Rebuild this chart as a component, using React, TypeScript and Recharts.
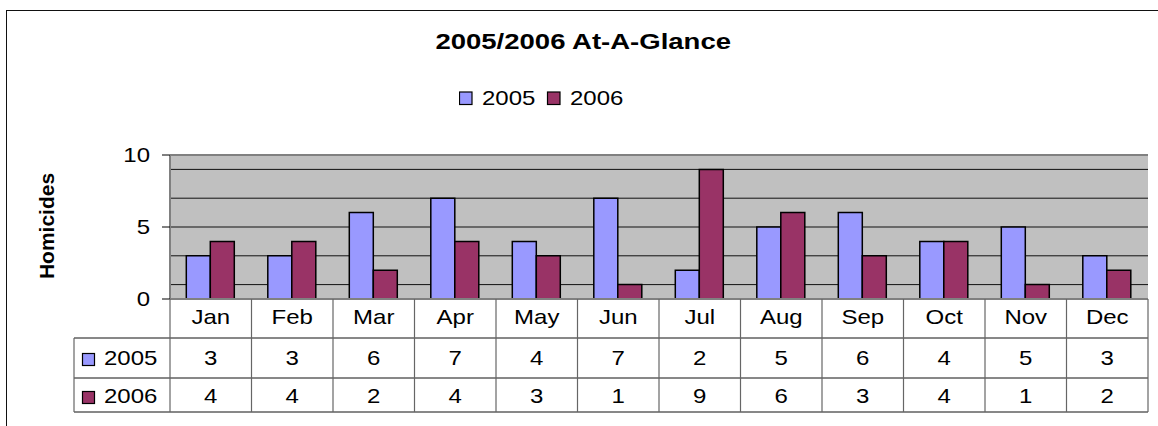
import React from "react"
import { BarChart, Bar, XAxis, YAxis, CartesianGrid, Legend, ReferenceLine } from "recharts"

const months = ["Jan", "Feb", "Mar", "Apr", "May", "Jun", "Jul", "Aug", "Sep", "Oct", "Nov", "Dec"]
const homicides2005 = [3, 3, 6, 7, 4, 7, 2, 5, 6, 4, 5, 3]
const homicides2006 = [4, 4, 2, 4, 3, 1, 9, 6, 3, 4, 1, 2]
const seriesNames = ["2005", "2006"]
const yTicks = [0, 5, 10]
const gridValues = [1, 2, 3, 4, 5, 6, 7, 8, 9]

const COLOR_2005 = "#9999FF"
const COLOR_2006 = "#993366"
const FONT = "'Liberation Sans', Arial, sans-serif"
const STRETCH = 1.2 // the original chart text is a bit wide

const data = months.map((m, i) => ({ month: m, y2005: homicides2005[i], y2006: homicides2006[i] }))
const rows = [
  { name: seriesNames[0], color: COLOR_2005, values: homicides2005 },
  { name: seriesNames[1], color: COLOR_2006, values: homicides2006 },
]

function WideText({ x, y, anchor = "start", size = 20, bold = false, children }: any) {
  return (
    <text transform={`translate(${x},${y}) scale(${STRETCH},1)`} textAnchor={anchor}
      fontFamily={FONT} fontSize={size} fontWeight={bold ? "bold" : "normal"} fill="#000">
      {children}
    </text>
  )
}

// data table under the plot, drawn cell by cell from the category axis ticks
function TableTick(props: any) {
  const { x, y, payload } = props
  const i = payload.index ?? props.index ?? 0
  const half = payload.offset || 40.75
  const left = x - half
  const headerLeft = left - 96
  const plotRight = left + months.length * half * 2
  const lineY = [39, 79, 113]
  const rowText = [66, 104]
  return (
    <g>
      {i === 0 && (
        <g>
          {lineY.map((dy) => (
            <line key={dy} x1={headerLeft} x2={plotRight} y1={y + dy} y2={y + dy} stroke="#111" strokeWidth={1} />
          ))}
          <line x1={headerLeft} x2={headerLeft} y1={y + 39} y2={y + 113} stroke="#666" strokeWidth={1.2} />
          {rows.map((r, k) => (
            <g key={r.name}>
              <rect x={headerLeft + 8.5} y={y + rowText[k] - 11.5} width={12} height={12} fill={r.color} stroke="#000" strokeWidth={1.2} />
              <WideText x={headerLeft + 30} y={y + rowText[k]}>{r.name}</WideText>
            </g>
          ))}
        </g>
      )}
      <line x1={left} x2={left} y1={y} y2={y + 113} stroke="#666" strokeWidth={1.2} />
      {i === months.length - 1 && (
        <line x1={x + half} x2={x + half} y1={y} y2={y + 113} stroke="#666" strokeWidth={1.2} />
      )}
      <WideText x={x} y={y + 25} anchor="middle">{payload.value}</WideText>
      {rows.map((r, k) => (
        <WideText key={r.name} x={x} y={y + rowText[k]} anchor="middle">{r.values[i]}</WideText>
      ))}
    </g>
  )
}

function YTick(props: any) {
  const { x, y, payload } = props
  return <WideText x={x} y={y + 7} anchor="end">{payload.value}</WideText>
}

function AxisTitle() {
  return (
    <text x={46} y={226} transform="rotate(-90 46 226)" textAnchor="middle" dominantBaseline="central"
      fontFamily={FONT} fontSize={21} fontWeight="bold" fill="#000">
      Homicides
    </text>
  )
}

function LegendBox(props: any) {
  const payload = props.payload || []
  return (
    <svg width={240} height={24}>
      {payload.map((e: any, i: number) => (
        <g key={e.value} transform={`translate(${i * 88},0)`}>
          <rect x={0.5} y={5} width={12.5} height={12.5} fill={e.color} stroke="#000" strokeWidth={1.2} />
          <WideText x={23} y={18}>{e.value}</WideText>
        </g>
      ))}
    </svg>
  )
}

export default function App() {
  return (
    <div style={{ position: "absolute", left: 0, top: 0, width: 1158, height: 426, background: "#fff", overflow: "hidden" }}>
      <div style={{ position: "absolute", left: 6, top: 10, width: 1200, height: 500, border: "1.5px solid #111" }} />
      <div style={{ position: "absolute", left: 0, top: 30, width: 1166, textAlign: "center", fontFamily: FONT, fontWeight: "bold", fontSize: 22, lineHeight: "24px", color: "#000" }}>
        <span style={{ display: "inline-block", transform: "scaleX(1.25)" }}>2005/2006 At-A-Glance</span>
      </div>
      <div style={{ position: "absolute", left: 0, top: 0 }}>
        <BarChart width={1158} height={426} data={data} margin={{ top: 155, right: 10, bottom: 7, left: 6 }} barCategoryGap="20%" barGap={0}>
          <CartesianGrid vertical={false} horizontalValues={gridValues} stroke="#111" fill="#C0C0C0" fillOpacity={1} />
          <XAxis dataKey="month" interval={0} height={120} tickLine={false} tickSize={0} tickMargin={0}
            axisLine={{ stroke: "#808080", strokeWidth: 2 }} tick={<TableTick />} />
          <YAxis domain={[0, 10]} ticks={yTicks} width={164} tickSize={8} tickMargin={12} tick={<YTick />}
            axisLine={{ stroke: "#808080", strokeWidth: 2 }} tickLine={{ stroke: "#000" }} label={<AxisTitle />} />
          <YAxis yAxisId="right" orientation="right" width={0} domain={[0, 10]} tick={false} tickLine={false}
            axisLine={{ stroke: "#808080", strokeWidth: 2 }} />
          <ReferenceLine y={10} stroke="#808080" strokeWidth={2} />
          <Legend verticalAlign="middle" layout="horizontal" align="center" content={<LegendBox />}
            wrapperStyle={{ position: "absolute", top: 87, left: 459, width: 240 }} />
          <Bar dataKey="y2005" name={seriesNames[0]} fill={COLOR_2005} stroke="#000" strokeWidth={1.5} isAnimationActive={false} />
          <Bar dataKey="y2006" name={seriesNames[1]} fill={COLOR_2006} stroke="#000" strokeWidth={1.5} isAnimationActive={false} />
        </BarChart>
      </div>
    </div>
  )
}
